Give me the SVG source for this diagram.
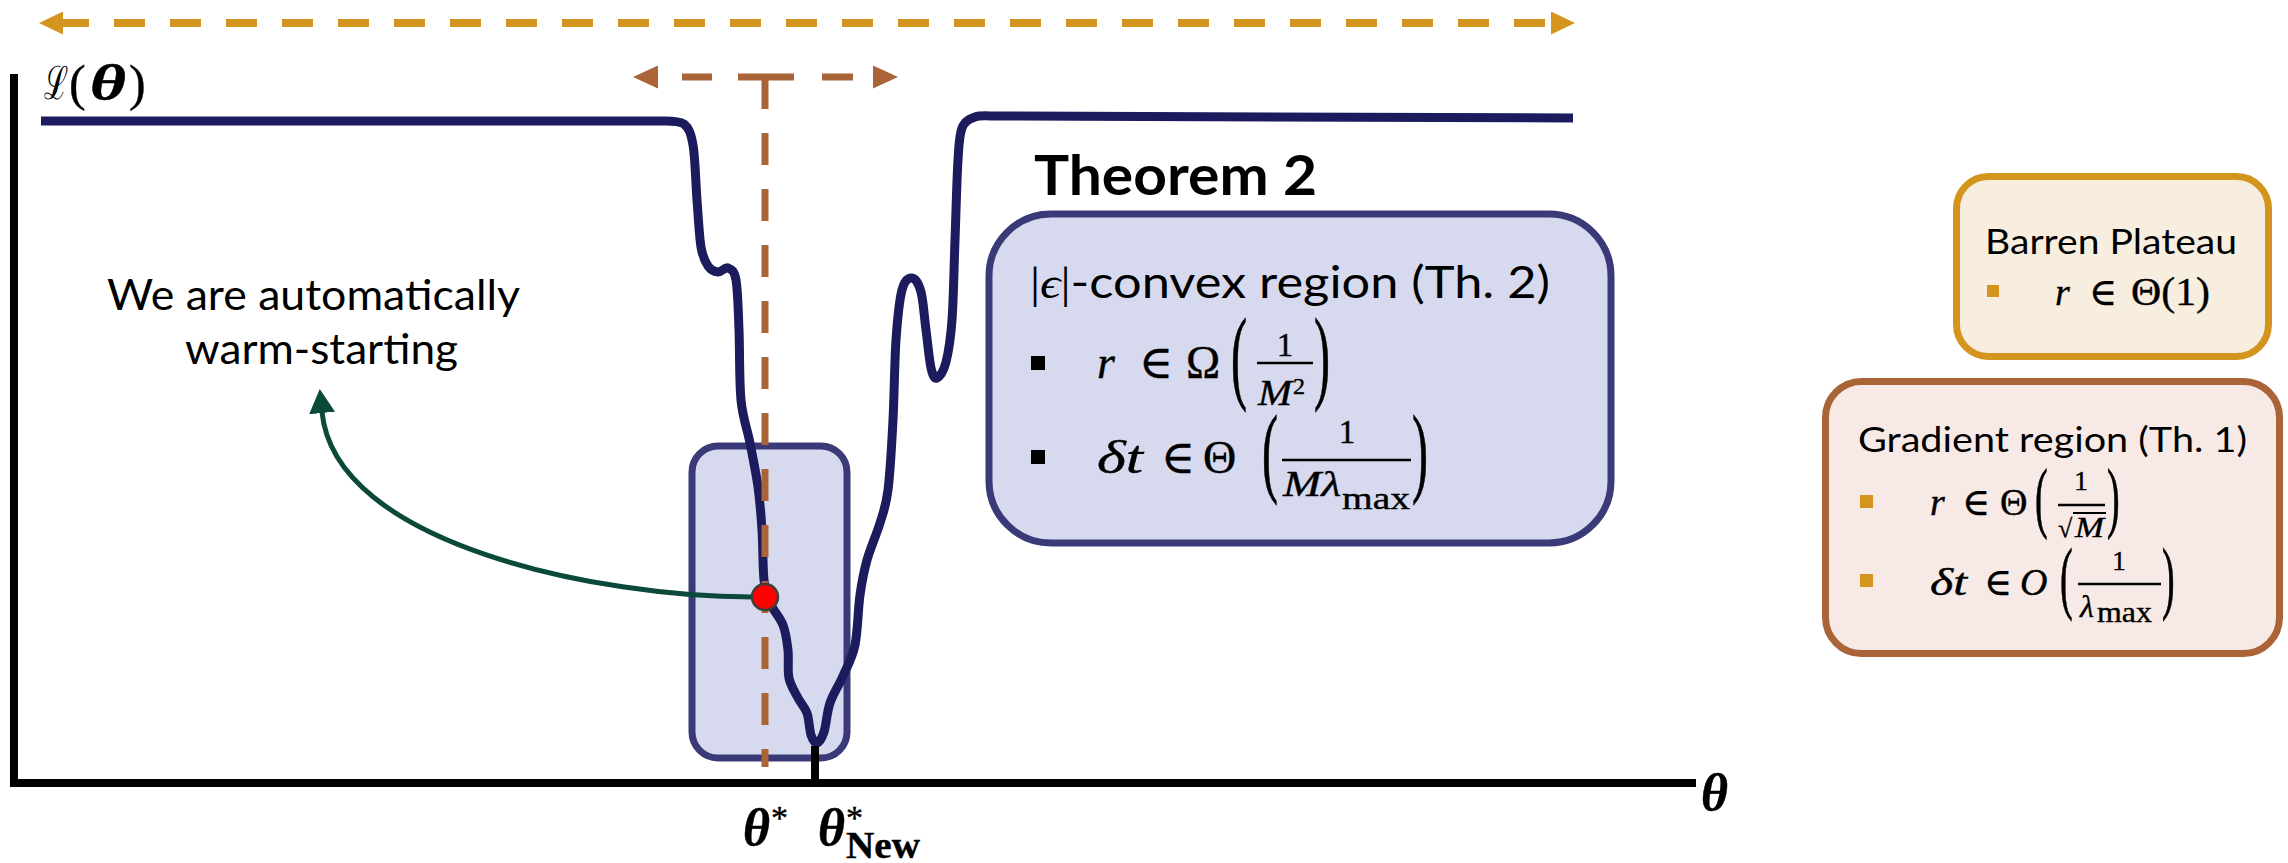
<svg xmlns="http://www.w3.org/2000/svg" width="2288" height="863" viewBox="0 0 2288 863">
<style>
.sans{font-family:Lato,"Liberation Sans","DejaVu Sans",sans-serif;fill:#000}
.math{font-family:"Liberation Serif","DejaVu Serif",serif;fill:#000;stroke:#000;stroke-width:0.4}
.it{font-style:italic}
.bi{font-style:italic;font-weight:bold}
.frac{stroke:#000;stroke-width:2.5}
.lav{fill:#D7DAEE;stroke:#3A3A78;stroke-width:7}
</style>
<defs>
<marker id="hGold" markerUnits="userSpaceOnUse" viewBox="0 0 24 23" refX="0" refY="11.5" markerWidth="24" markerHeight="23" orient="auto-start-reverse"><path d="M0,0 L24,11.5 L0,23 z" fill="#D4951F"/></marker>
<marker id="hBrown" markerUnits="userSpaceOnUse" viewBox="0 0 25 23" refX="0" refY="11.5" markerWidth="25" markerHeight="23" orient="auto-start-reverse"><path d="M0,0 L25,11.5 L0,23 z" fill="#AB6338"/></marker>
<marker id="hGreen" markerUnits="userSpaceOnUse" viewBox="0 0 24 26" refX="1" refY="13" markerWidth="24" markerHeight="26" orient="auto"><path d="M0,0 L24,13 L0,26 z" fill="#0B4A3B"/></marker>
</defs>

<g id="axes">
<path d="M14,74 V783 H1696" fill="none" stroke="#000" stroke-width="8"/>
<text class="math bi" x="1701" y="810" font-size="52">θ</text>
<text x="44" y="99" font-size="46" font-family="'DejaVu Serif',serif" textLength="24" lengthAdjust="spacingAndGlyphs">ℒ</text>
<text class="math" x="69" y="100" font-size="50">(</text>
<text class="math bi" x="90" y="100" font-size="50" textLength="36" lengthAdjust="spacingAndGlyphs">θ</text>
<text class="math" x="129" y="100" font-size="50">)</text>
</g>

<g id="node-local-region">
<rect class="lav" x="692" y="446" width="155" height="312" rx="26"/>
</g>

<g id="loss-curve">
<path fill="none" stroke="#1C1B5E" stroke-width="9" stroke-linecap="butt" stroke-linejoin="round" d="M41,121 L665,121 C671,121 679,121 684,124 C688.7,128 690.8,132.3 693,145 C695.2,157.7 695.7,183 697,200 C698.3,217 699.2,236 701,247 C702.8,258 705.2,261.8 708,266 C710.8,270.2 714.7,271.7 718,272 C721.3,272.3 725,266.7 728,268 C731,269.3 734.2,269.7 736,280 C737.8,290.3 738.2,310 739,330 C739.8,350 739.2,381.2 741,400 C742.8,418.8 747.2,428.5 750,443 C752.8,457.5 756,472.5 758,487 C760,501.5 761,514.5 762,530 C763,545.5 762.7,567.8 764,580 C765.3,592.2 766.8,595.5 770,603 C773.2,610.5 780,617.2 783,625 C786,632.8 787,641.2 788,650 C789,658.8 787.3,670 789,678 C790.7,686 795,692.2 798,698 C801,703.8 804.8,706.8 807,713 C809.2,719.2 809.3,730 811,735 C812.7,740 814.8,743.5 817,743 C819.2,742.5 821.8,738.7 824,732 C826.2,725.3 826.8,712.3 830,703 C833.2,693.7 838.8,685.7 843,676 C847.2,666.3 852.2,658.5 855,645 C857.8,631.5 858,609.2 860,595 C862,580.8 863.7,572 867,560 C870.3,548 876.5,534.7 880,523 C883.5,511.3 885.8,507.2 888,490 C890.2,472.8 891.7,445 893,420 C894.3,395 894.5,361.7 896,340 C897.5,318.3 899.3,300.3 902,290 C904.7,279.7 908.8,277.7 912,278 C915.2,278.3 918.7,283.3 921,292 C923.3,300.7 924.3,317.3 926,330 C927.7,342.7 929.2,360 931,368 C932.8,376 934.5,379 937,378 C939.5,377 943.5,371.7 946,362 C948.5,352.3 950.5,340.3 952,320 C953.5,299.7 954,266.7 955,240 C956,213.3 956.8,178.7 958,160 C959.2,141.3 959.2,135.2 962,128 C964.8,120.8 969.5,119 975,117 C980.5,115 989,116 995,116 L1573,118"/>
</g>

<g id="connectors">
<line x1="765" y1="77" x2="765" y2="767" stroke="#AB6338" stroke-width="7" stroke-dasharray="32 24"/>
<line x1="658" y1="77" x2="873" y2="77" stroke="#AB6338" stroke-width="7" stroke-dasharray="0 24 30 26 56 28 31 20" marker-start="url(#hBrown)" marker-end="url(#hBrown)"/>
<line x1="63" y1="23" x2="1551" y2="23" stroke="#D4951F" stroke-width="8" stroke-dasharray="31 25" stroke-dashoffset="5" marker-start="url(#hGold)" marker-end="url(#hGold)"/>
<path d="M752,597 C600,597 335,545 322,412" fill="none" stroke="#0B4A3B" stroke-width="5" marker-end="url(#hGreen)"/>
<line x1="815" y1="746" x2="815" y2="783" stroke="#000" stroke-width="8"/>
</g>

<g id="node-red-dot">
<circle cx="765" cy="597" r="13" fill="#FF0000" stroke="#3F3F3F" stroke-width="2.5"/>
</g>

<g id="node-warm-start">
<text class="sans" x="107" y="310" font-size="42" textLength="413" lengthAdjust="spacingAndGlyphs">We are automatically</text>
<text class="sans" x="185" y="364" font-size="42" textLength="273" lengthAdjust="spacingAndGlyphs">warm-starting</text>
</g>

<g id="node-theta-labels">
<text class="math bi" x="743" y="845" font-size="52">θ</text>
<text class="math" x="771" y="829" font-size="34">*</text>
<text class="math bi" x="818" y="845" font-size="52">θ</text>
<text class="math" x="846" y="829" font-size="34">*</text>
<text class="math" font-weight="bold" x="846" y="858" font-size="37" textLength="74" lengthAdjust="spacingAndGlyphs">New</text>
</g>

<g id="node-theorem2">
<text class="sans" font-weight="bold" x="1034" y="195" font-size="56" textLength="283" lengthAdjust="spacingAndGlyphs">Theorem 2</text>
<rect class="lav" x="989" y="214" width="622" height="329" rx="62"/>
<text class="sans" x="1030" y="298" font-size="44" textLength="520" lengthAdjust="spacingAndGlyphs"><tspan class="math" style="stroke-width:0">|</tspan><tspan class="math it" style="stroke-width:0">ϵ</tspan><tspan class="math" style="stroke-width:0">|</tspan>-convex region (Th. 2)</text>
<rect x="1031" y="356" width="14" height="14" fill="#000"/>
<rect x="1031" y="450" width="14" height="14" fill="#000"/>
<text class="math it" x="1097" y="378" font-size="46">r</text>
<text class="math" x="1139" y="378" font-size="46">∈</text>
<text class="math" x="1186" y="378" font-size="46">Ω</text>
<text class="math" transform="translate(1231,390) scale(1,2.15)" font-size="48">(</text>
<text class="math" x="1285" y="356" font-size="33" text-anchor="middle">1</text>
<line class="frac" x1="1257" y1="363" x2="1313" y2="363"/>
<text class="math it" x="1258" y="405" font-size="35" textLength="34" lengthAdjust="spacingAndGlyphs">M</text>
<text class="math" x="1293" y="394" font-size="24">2</text>
<text class="math" transform="translate(1314,390) scale(1,2.15)" font-size="48">)</text>
<text class="math it" x="1097" y="473" font-size="46" textLength="46" lengthAdjust="spacingAndGlyphs">δt</text>
<text class="math" x="1161" y="473" font-size="46">∈</text>
<text class="math" x="1203" y="473" font-size="46">Θ</text>
<text class="math" transform="translate(1262,484) scale(1,2.08)" font-size="48">(</text>
<text class="math" x="1347" y="443" font-size="33" text-anchor="middle">1</text>
<line class="frac" x1="1282" y1="460" x2="1411" y2="460"/>
<text class="math it" x="1283" y="496" font-size="35" textLength="58" lengthAdjust="spacingAndGlyphs">Mλ</text>
<text class="math" x="1342" y="509" font-size="32" textLength="68" lengthAdjust="spacingAndGlyphs">max</text>
<text class="math" transform="translate(1412,484) scale(1,2.08)" font-size="48">)</text>
</g>

<g id="node-barren">
<rect x="1956.5" y="176.5" width="312" height="180" rx="32" fill="#F8EEE0" stroke="#D4951F" stroke-width="7"/>
<text class="sans" x="1985" y="254" font-size="35" textLength="252" lengthAdjust="spacingAndGlyphs">Barren Plateau</text>
<rect x="1987" y="285" width="12" height="12" fill="#D4951F"/>
<text class="math it" x="2055" y="305" font-size="38">r</text>
<text class="math" x="2089" y="305" font-size="38">∈</text>
<text class="math" x="2131" y="305" font-size="40" textLength="79" lengthAdjust="spacingAndGlyphs">Θ(1)</text>
</g>

<g id="node-gradient">
<rect x="1825.5" y="381.5" width="454" height="272" rx="36" fill="#F7EAE6" stroke="#AB6338" stroke-width="7"/>
<text class="sans" x="1858" y="452" font-size="35" textLength="389" lengthAdjust="spacingAndGlyphs">Gradient region (Th. 1)</text>
<rect x="1860" y="495" width="13" height="13" fill="#D4951F"/>
<rect x="1860" y="574" width="13" height="13" fill="#D4951F"/>
<text class="math it" x="1930" y="515" font-size="38">r</text>
<text class="math" x="1962" y="515" font-size="38">∈</text>
<text class="math" x="2000" y="515" font-size="38">Θ</text>
<text class="math" transform="translate(2035,523) scale(1,2.07)" font-size="38">(</text>
<text class="math" x="2081" y="490" font-size="27" text-anchor="middle">1</text>
<line class="frac" x1="2058" y1="505" x2="2105" y2="505"/>
<text class="math" x="2058" y="537" font-size="26">√</text>
<line x1="2073" y1="513" x2="2106" y2="513" stroke="#000" stroke-width="1.8"/>
<text class="math it" x="2075" y="537" font-size="29" textLength="29" lengthAdjust="spacingAndGlyphs">M</text>
<text class="math" transform="translate(2107,523) scale(1,2.07)" font-size="38">)</text>
<text class="math it" x="1930" y="595" font-size="38" textLength="37" lengthAdjust="spacingAndGlyphs">δt</text>
<text class="math" x="1984" y="595" font-size="38">∈</text>
<text class="math it" x="2020" y="595" font-size="38">O</text>
<text class="math" transform="translate(2060,604) scale(1,2.1)" font-size="38">(</text>
<text class="math" x="2119" y="570" font-size="27" text-anchor="middle">1</text>
<line class="frac" x1="2078" y1="584" x2="2161" y2="584"/>
<text class="math it" x="2080" y="617" font-size="32">λ</text>
<text class="math" x="2097" y="622" font-size="30" textLength="55" lengthAdjust="spacingAndGlyphs">max</text>
<text class="math" transform="translate(2162,604) scale(1,2.1)" font-size="38">)</text>
</g>
</svg>
